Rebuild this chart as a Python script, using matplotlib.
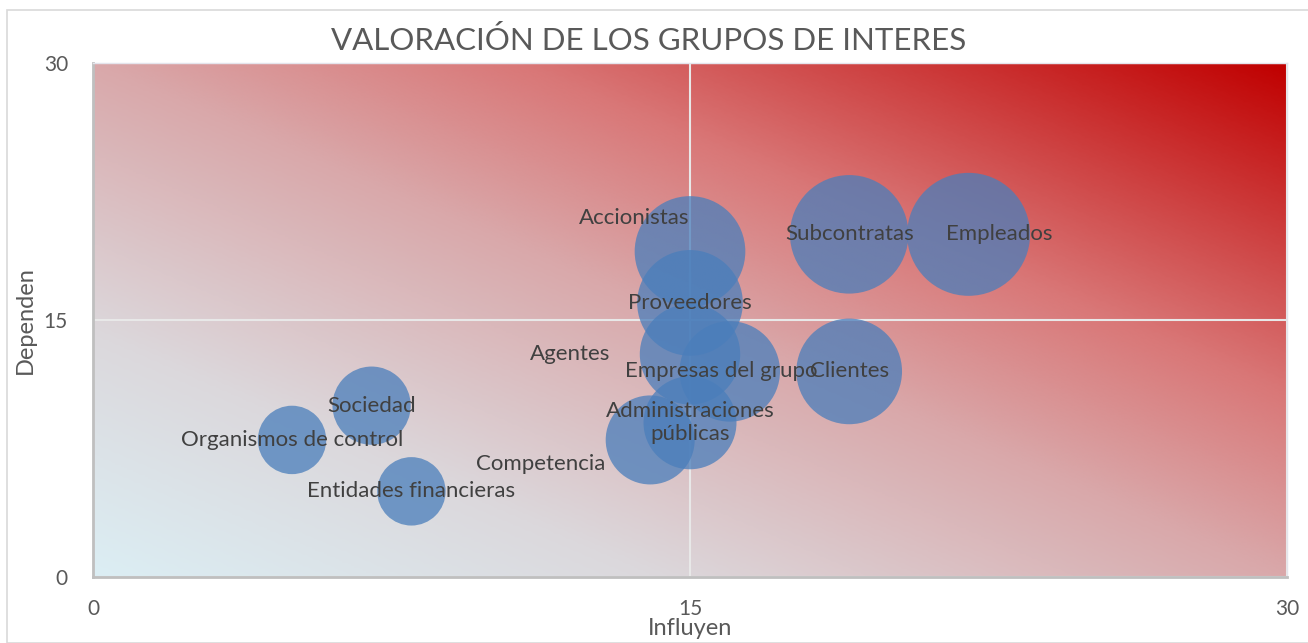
import numpy as np
import matplotlib
matplotlib.use("Agg")
import matplotlib.pyplot as plt
from matplotlib.colors import LinearSegmentedColormap
from matplotlib.patches import Rectangle

plt.rcParams['font.family'] = ['Lato', 'DejaVu Sans']

# stakeholder groups: influence (x), dependence (y), bubble size
grupos = ['Organismos de control', 'Sociedad', 'Entidades financieras', 'Competencia',
          'Administraciones\npúblicas', 'Agentes', 'Empresas del grupo', 'Proveedores',
          'Accionistas', 'Subcontratas', 'Empleados', 'Clientes']
influyen = [5, 7, 8, 14, 15, 15, 16, 15, 15, 19, 22, 19]
dependen = [8, 10, 5, 8, 9, 13, 12, 16, 19, 20, 20, 12]
tamano = [13, 17, 13, 22, 24, 28, 28, 31, 34, 39, 42, 31]

ticks = [0, 15, 30]

# label nudges (points) for labels that sit beside their bubble
nudge = {'Accionistas': (-40, 24), 'Agentes': (-86, 0), 'Empleados': (22, 0),
         'Competencia': (-79, -17), 'Empresas del grupo': (-6, 0)}

fig = plt.figure(figsize=(13.08, 6.43), dpi=100)
ax = fig.add_axes([93/1308, 1 - 577/643, 1194/1308, 514/643])

# background gradient: light blue bottom-left -> dark red top-right
grad = LinearSegmentedColormap.from_list('bg', [
    (0.0, '#DBEEF4'), (0.235, '#DCD8DC'), (0.5, '#D9A8AA'),
    (0.68, '#D97777'), (1.0, '#C00000')])
u, v = np.meshgrid(np.linspace(0, 1, 400), np.linspace(0, 1, 300))
ax.imshow((u + v) / 2, cmap=grad, vmin=0, vmax=1, origin='lower',
          extent=[0, 30, 0, 30], aspect='auto', zorder=0, interpolation='bilinear')

ax.set_xlim(0, 30)
ax.set_ylim(0, 30)
ax.set_xticks(ticks)
ax.set_yticks(ticks)
ax.grid(True, color='#E8E8E8', lw=1.5, zorder=1)
ax.tick_params(length=0, labelsize=15, colors='#595959')
ax.tick_params(axis='x', pad=16)
ax.tick_params(axis='y', pad=18)
for s in ['left', 'bottom']:
    ax.spines[s].set_color('#BFBFBF')
    ax.spines[s].set_linewidth(2)
for s in ['top', 'right']:
    ax.spines[s].set_color('#E4E4EC')
    ax.spines[s].set_linewidth(1)

k = 186.7
ax.scatter(influyen, dependen, s=[k * t for t in tamano], color='#4A7EBB',
           alpha=0.75, edgecolors='none', zorder=2)

for g, x, y in zip(grupos, influyen, dependen):
    ax.annotate(g, (x, y), xytext=nudge.get(g, (0, 0)), textcoords='offset points',
                ha='center', va='center', fontsize=16, color='#404040',
                zorder=3, linespacing=1.2)

ax.set_xlabel('Influyen', fontsize=17, color='#595959', labelpad=-1)
ax.set_ylabel('Dependen', fontsize=17, color='#595959', labelpad=6)
fig.text(649/1308, 1 - 40/643, 'VALORACIÓN DE LOS GRUPOS DE INTERES',
         ha='center', va='center', fontsize=22.5, color='#595959')

fig.add_artist(Rectangle((7/1308, 0), 1.1, 1 - 10/643, transform=fig.transFigure,
                         fill=False, edgecolor='#D9D9D9', lw=1.2))

fig.savefig('out.png', dpi=100)
